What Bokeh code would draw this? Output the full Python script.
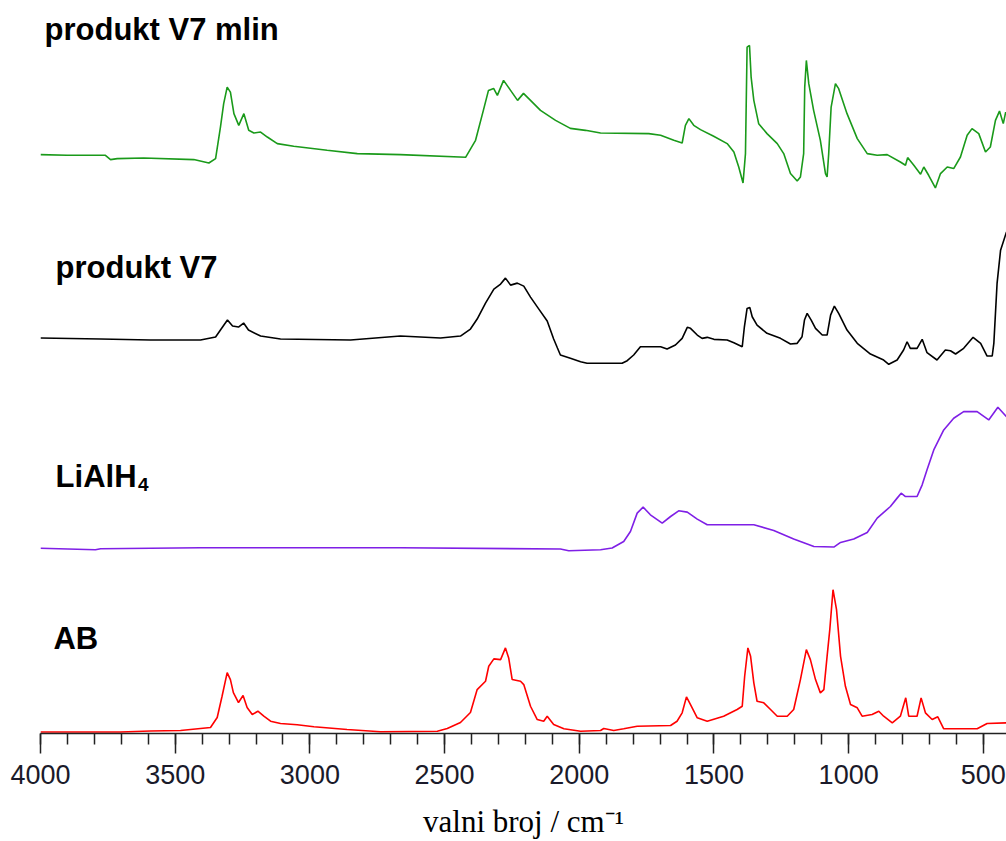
from bokeh.plotting import figure
from bokeh.models import Range1d, Label, SingleIntervalTicker
from bokeh.embed import file_html
from bokeh.resources import INLINE

# ---- data (wavenumber / cm-1, absorbance a.u.) ----
ab_wn = [4000, 3703, 3592, 3480, 3406, 3369, 3344, 3326, 3307, 3295, 3284, 3265, 3248, 3233, 3214, 3193,
         3171, 3146, 3109, 3047, 2985, 2862, 2738, 2527, 2490, 2441, 2404, 2379, 2348, 2336, 2317, 2292,
         2274, 2262, 2249, 2218, 2206, 2181, 2156, 2132, 2119, 2095, 2057, 1995, 1921, 1909, 1872, 1835,
         1785, 1661, 1637, 1618, 1602, 1587, 1562, 1525, 1464, 1414, 1395, 1386, 1374, 1364, 1352, 1340,
         1315, 1290, 1265, 1228, 1204, 1179, 1157, 1142, 1123, 1105, 1092, 1080, 1070, 1058, 1045, 1030,
         1012, 993, 968, 950, 913, 888, 870, 838, 808, 788, 777, 746, 731, 715, 690, 669, 647, 523, 486, 414]
ab_abs = [-0.005, -0.005, 0.005, 0.01, 0.03, 0.04, 0.14, 0.353, 0.59, 0.52, 0.39, 0.29, 0.36, 0.24, 0.17, 0.203,
          0.153, 0.103, 0.08, 0.067, 0.047, 0.02, -0.003, 0.003, 0.03, 0.09, 0.19, 0.42, 0.503, 0.653, 0.727, 0.72,
          0.837, 0.737, 0.52, 0.503, 0.47, 0.253, 0.12, 0.103, 0.153, 0.07, 0.027, 0.003, 0.01, 0.03, 0.01, 0.027,
          0.053, 0.06, 0.103, 0.187, 0.347, 0.27, 0.137, 0.103, 0.153, 0.22, 0.253, 0.553, 0.837, 0.753, 0.487, 0.303,
          0.287, 0.22, 0.153, 0.153, 0.22, 0.52, 0.82, 0.72, 0.52, 0.387, 0.42, 0.753, 1.02, 1.42, 1.22, 0.753,
          0.453, 0.27, 0.237, 0.153, 0.17, 0.203, 0.153, 0.087, 0.153, 0.337, 0.153, 0.153, 0.337, 0.187, 0.12, 0.147,
          0.027, 0.027, 0.08, 0.087]

lialh4_wn = [4000, 3796, 3777, 3406, 2664, 2070, 2039, 1921, 1878, 1835, 1810, 1785, 1763, 1736, 1692, 1661,
             1631, 1599, 1562, 1525, 1352, 1278, 1204, 1129, 1055, 1030, 981, 931, 894, 845, 820, 805,
             789, 746, 727, 709, 684, 647, 610, 573, 523, 480, 446, 414]
lialh4_abs = [0.005, -0.01, 0.0, 0.01, 0.01, -0.003, -0.02, -0.01, 0.007, 0.073, 0.173, 0.357, 0.417, 0.34, 0.257, 0.323,
              0.38, 0.367, 0.297, 0.24, 0.24, 0.183, 0.097, 0.023, 0.017, 0.063, 0.097, 0.163, 0.307, 0.423, 0.507, 0.557,
              0.523, 0.523, 0.64, 0.79, 0.99, 1.19, 1.307, 1.373, 1.373, 1.29, 1.417, 1.323]

v7_wn = [4000, 3777, 3592, 3406, 3350, 3332, 3306, 3287, 3265, 3246, 3228, 3183, 3109, 2849, 2664, 2515,
         2441, 2404, 2379, 2348, 2317, 2292, 2274, 2255, 2230, 2206, 2181, 2150, 2119, 2095, 2081,
         2070, 2033, 1995, 1971, 1841, 1822, 1798,
         1773, 1698, 1674, 1643, 1618, 1599, 1587, 1562, 1544, 1525, 1500, 1451, 1426, 1395, 1387, 1377,
         1367, 1358, 1340, 1303, 1253, 1216, 1191, 1173, 1164, 1154, 1139, 1123, 1098, 1080, 1067, 1053,
         1037, 1006, 968, 919, 870, 851, 820, 796, 783, 771, 746, 727, 709, 672, 641, 622,
         603, 573, 538, 510, 486, 467, 461, 449, 436, 414]
v7_abs = [0.01, 0.0, -0.01, -0.01, 0.02, 0.09, 0.19, 0.13, 0.12, 0.16, 0.09, 0.03, 0.0, -0.01, 0.03, 0.01,
          0.03, 0.10, 0.20, 0.36, 0.50, 0.55, 0.61, 0.54, 0.56, 0.53, 0.42, 0.30, 0.18, 0.0, -0.09,
          -0.16, -0.193, -0.227, -0.243, -0.243, -0.217, -0.16,
          -0.077, -0.077, -0.1, -0.06, 0.007, 0.117, 0.107, 0.04, 0.007, 0.017, -0.003, -0.01, -0.037, -0.077, 0.123, 0.307,
          0.317, 0.223, 0.14, 0.057, 0.007, -0.05, -0.043, 0.023, 0.19, 0.257, 0.19, 0.107, 0.04, 0.04, 0.24, 0.33,
          0.257, 0.09, -0.043, -0.15, -0.21, -0.253, -0.21, -0.11, -0.027, -0.093, -0.093, -0.003, -0.137, -0.21, -0.11, -0.117,
          -0.15, -0.093, 0.017, -0.043, -0.17, -0.17, -0.043, 0.557, 0.89, 1.073]

mlin_wn = [4000, 3901, 3759, 3740, 3715, 3617, 3431, 3375, 3350, 3332, 3320, 3307, 3295, 3282, 3264, 3245,
           3227, 3208, 3183, 3158, 3121, 3060, 2936, 2824, 2664, 2422, 2385, 2356, 2337, 2318, 2304, 2281,
           2255, 2229, 2207, 2181, 2144, 2088, 2033, 1977, 1921, 1742, 1698, 1649, 1618, 1606, 1593, 1575,
           1550, 1501, 1451, 1426, 1408, 1392, 1383, 1377, 1368, 1362, 1352, 1334, 1303, 1265, 1241, 1216,
           1191, 1179, 1167, 1163, 1157, 1148, 1130, 1105, 1086, 1080, 1074, 1065, 1049, 1037, 1006, 968,
           931, 894, 857, 808, 789, 781, 758, 733, 721, 703, 678, 659, 634, 610, 585, 560,
           542, 517, 492, 474, 455, 440, 426, 417]
mlin_abs = [0.017, 0.01, 0.01, -0.033, -0.023, -0.017, -0.033, -0.067, -0.023, 0.293, 0.527, 0.693, 0.643, 0.427, 0.31, 0.427,
            0.26, 0.233, 0.243, 0.193, 0.127, 0.1, 0.06, 0.027, 0.017, -0.01, 0.16, 0.46, 0.66, 0.68, 0.61, 0.76,
            0.66, 0.56, 0.63, 0.56, 0.46, 0.36, 0.28, 0.26, 0.233, 0.227, 0.21, 0.16, 0.133, 0.31, 0.377, 0.31,
            0.267, 0.2, 0.127, 0.043, -0.107, -0.267, 0.027, 1.093, 1.11, 0.793, 0.56, 0.327, 0.227, 0.127, 0.027, -0.173,
            -0.247, -0.207, 0.027, 0.693, 0.96, 0.727, 0.46, 0.16, -0.173, -0.207, 0.027, 0.493, 0.727, 0.677, 0.427, 0.177,
            0.027, 0.01, 0.017, -0.057, -0.09, -0.013, -0.09, -0.18, -0.107, -0.19, -0.317, -0.173, -0.107, -0.123, -0.007, 0.21,
            0.277, 0.227, 0.043, 0.093, 0.36, 0.453, 0.327, 0.443]

names = ["AB", "LiAlH", "produkt V7", "produkt V7 mlin"]
tick_values = [4000, 3500, 3000, 2500, 2000, 1500, 1000, 500]
x_title = "valni broj / cm\u207b\u00b9"

# stacking offsets (a.u.)
offsets = {"ab": 0.02, "lialh4": 1.85, "v7": 3.95, "mlin": 5.78}

p = figure(width=1006, height=841, output_backend="svg", toolbar_location=None,
           x_range=Range1d(4000, 414), y_range=Range1d(0, 7.26),
           y_axis_location=None, min_border_left=40, min_border_right=0,
           min_border_top=8, min_border_bottom=107)
p.outline_line_color = None
p.xgrid.visible = False
p.ygrid.visible = False
p.background_fill_color = "white"
p.border_fill_color = "white"

def shifted(vals, off):
    return [v + off for v in vals]

p.line(ab_wn, shifted(ab_abs, offsets["ab"]), line_color="#ff0000", line_width=1.6)
p.line(lialh4_wn, shifted(lialh4_abs, offsets["lialh4"]), line_color="#7f1fe6", line_width=1.6)
p.line(v7_wn, shifted(v7_abs, offsets["v7"]), line_color="#000000", line_width=1.6)
p.line(mlin_wn, shifted(mlin_abs, offsets["mlin"]), line_color="#1a9a1a", line_width=1.6)

ax = p.xaxis[0]
ax.ticker = SingleIntervalTicker(interval=500, num_minor_ticks=5)
ax.major_label_overrides = {v: str(v) for v in tick_values}
ax.axis_line_color = "#222222"
ax.axis_line_width = 1.5
ax.major_tick_line_color = "#222222"
ax.minor_tick_line_color = "#222222"
ax.major_tick_line_width = 1.5
ax.minor_tick_line_width = 1.5
ax.major_tick_in = 0
ax.major_tick_out = 20
ax.minor_tick_in = 0
ax.minor_tick_out = 11
ax.major_label_standoff = 11
ax.major_label_text_font = "Liberation Sans"
ax.major_label_text_font_size = "27px"
ax.major_label_text_color = "#1a1a2a"
ax.axis_label = x_title
ax.axis_label_text_font = "Liberation Serif"
ax.axis_label_text_font_size = "31px"
ax.axis_label_text_font_style = "normal"
ax.axis_label_text_color = "#000000"
ax.axis_label_standoff = 17

def lab(x, y, text, size, bold=True, font="Liberation Sans"):
    p.add_layout(Label(x=x, y=y, text=text, text_font=font, text_font_size=size,
                       text_font_style="bold" if bold else "normal", text_color="#000000",
                       text_baseline="alphabetic", text_align="left"))

lab(3985, 7.05, names[3], "31px")
lab(3944, 4.67, names[2], "31px")
lab(3944, 2.57, names[1], "31px")
lab(3638, 2.49, "4", "19px")
lab(3952, 0.95, names[0], "31px")

open("out.html", "w").write(file_html(p, INLINE))
